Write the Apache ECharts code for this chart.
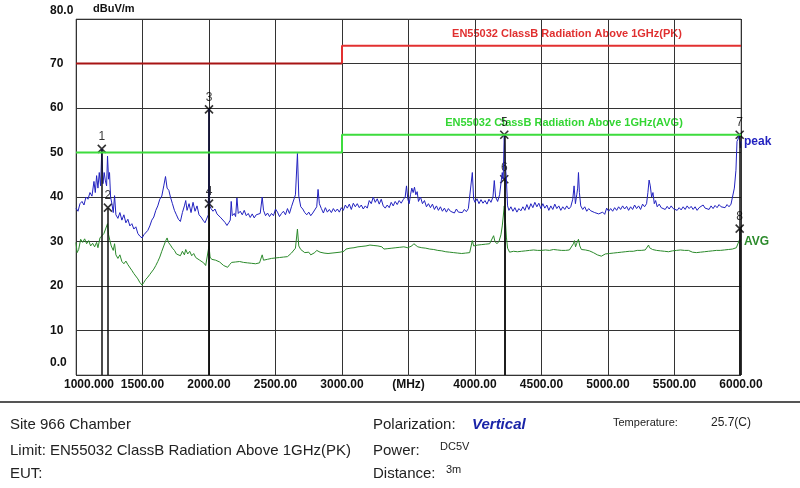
<!DOCTYPE html>
<html>
<head>
<meta charset="utf-8">
<script src="https://cdn.jsdelivr.net/npm/echarts@6/dist/echarts.min.js"></script>
<style>
html, body { margin: 0; padding: 0; background: #fff; }
#chart { width: 800px; height: 488px; }
</style>
</head>
<body>
<div id="chart"></div>
<script>
const xTickLabels = ['1000.000', '1500.00', '2000.00', '2500.00', '3000.00', '(MHz)', '4000.00', '4500.00', '5000.00', '5500.00', '6000.00']
const yTickLabels = ['0.0', '10', '20', '30', '40', '50', '60', '70', '80.0']

// limit lines: step at 3000 MHz
const limitFreqs = [1000, 3000, 6000]
const pkLimit = [70, 74]
const avgLimit = [50, 54]

// [MHz, dBuV/m]
const peakTrace = [
  [1000, 37.5], [1015, 36.8], [1030, 38.5], [1045, 39.0], [1060, 38.2], [1075, 40.0], [1090, 39.5], [1105, 41.0],
  [1120, 40.2], [1135, 43.5], [1145, 41.0], [1155, 44.8], [1165, 42.0], [1175, 45.5], [1185, 42.5], [1194, 50.8],
  [1203, 43.0], [1212, 45.5], [1220, 43.8], [1230, 42.5], [1237, 49.2], [1245, 44.0], [1252, 45.5], [1260, 40.0],
  [1270, 38.5], [1280, 36.5], [1290, 40.3], [1300, 36.0], [1315, 35.2], [1330, 36.5], [1345, 34.8], [1360, 36.0],
  [1375, 34.2], [1390, 35.0], [1405, 33.5], [1420, 34.0], [1435, 32.8], [1450, 33.3], [1465, 31.8], [1480, 31.2],
  [1497, 30.8], [1510, 31.5], [1525, 31.8], [1540, 32.5], [1555, 33.5], [1570, 34.8], [1585, 35.5], [1600, 37.0],
  [1615, 38.0], [1630, 39.5], [1645, 40.2], [1660, 42.5], [1673, 44.6], [1685, 42.0], [1698, 41.5], [1710, 40.0],
  [1725, 38.5], [1740, 37.0], [1755, 36.0], [1770, 35.0], [1785, 34.5], [1800, 36.5], [1815, 38.0], [1825, 39.2],
  [1835, 37.0], [1850, 38.5], [1865, 36.5], [1880, 38.8], [1895, 36.8], [1910, 38.0], [1925, 36.0], [1940, 35.5],
  [1955, 34.8], [1970, 34.2], [1985, 33.8], [1995, 36.0], [2000, 59.7], [2005, 38.0], [2015, 37.4], [2030, 36.8],
  [2045, 37.3], [2060, 36.2], [2075, 36.6], [2090, 35.3], [2105, 35.6], [2120, 34.3], [2135, 33.6], [2150, 34.3],
  [2160, 34.8], [2167, 39.0], [2175, 35.8], [2190, 36.3], [2200, 35.6], [2210, 39.8], [2220, 36.3], [2235, 36.8],
  [2250, 36.0], [2265, 37.0], [2280, 35.8], [2295, 36.3], [2310, 35.4], [2325, 36.2], [2340, 35.3], [2355, 36.0],
  [2370, 35.6], [2385, 36.3], [2400, 40.0], [2410, 37.0], [2425, 35.8], [2440, 36.4], [2455, 35.6], [2470, 36.3],
  [2485, 35.8], [2500, 37.3], [2515, 36.6], [2530, 35.6], [2545, 36.3], [2560, 36.8], [2575, 36.0], [2590, 37.4],
  [2605, 36.3], [2620, 37.8], [2635, 38.2], [2650, 40.5], [2665, 49.8], [2675, 40.2], [2690, 37.8], [2705, 37.3],
  [2720, 36.5], [2735, 36.0], [2750, 36.6], [2765, 35.8], [2780, 36.4], [2795, 36.0], [2810, 37.8], [2820, 41.7],
  [2830, 38.5], [2845, 37.4], [2860, 36.4], [2875, 37.6], [2890, 36.6], [2905, 37.2], [2920, 36.5], [2935, 37.4],
  [2950, 36.7], [2965, 37.3], [2980, 36.6], [2995, 37.6], [3010, 37.0], [3025, 38.2], [3040, 37.5], [3055, 38.4],
  [3070, 37.2], [3085, 38.6], [3100, 37.8], [3115, 38.5], [3130, 37.6], [3145, 38.2], [3160, 37.3], [3175, 38.0],
  [3190, 37.5], [3205, 39.2], [3220, 38.5], [3235, 40.0], [3250, 38.8], [3265, 39.6], [3280, 38.4], [3295, 39.5],
  [3310, 38.0], [3325, 37.5], [3340, 38.2], [3355, 37.6], [3370, 38.8], [3385, 38.0], [3400, 39.0], [3415, 38.3],
  [3430, 39.2], [3445, 38.6], [3460, 39.4], [3475, 40.0], [3485, 42.5], [3495, 39.5], [3505, 38.5], [3515, 40.5],
  [3525, 42.0], [3535, 41.0], [3545, 42.2], [3555, 40.5], [3565, 41.2], [3575, 39.0], [3590, 40.0], [3605, 38.5],
  [3620, 39.2], [3635, 37.8], [3650, 38.5], [3665, 37.6], [3680, 38.4], [3695, 37.2], [3710, 38.0], [3725, 37.0],
  [3740, 37.8], [3755, 36.8], [3770, 37.5], [3785, 36.6], [3800, 37.4], [3815, 36.8], [3830, 37.2], [3845, 36.4],
  [3860, 37.3], [3875, 36.6], [3890, 37.0], [3905, 36.5], [3920, 37.2], [3935, 36.7], [3950, 37.4], [3965, 37.0],
  [3980, 45.5], [3990, 39.5], [4000, 38.8], [4015, 39.6], [4030, 38.5], [4045, 39.4], [4060, 38.6], [4075, 39.2],
  [4090, 38.4], [4105, 39.5], [4120, 38.8], [4135, 40.0], [4145, 43.7], [4155, 40.0], [4170, 39.0], [4185, 40.5],
  [4195, 43.0], [4205, 45.5], [4212, 44.0], [4220, 54.0], [4228, 47.0], [4235, 44.5], [4245, 38.0], [4255, 37.0],
  [4270, 37.8], [4285, 36.8], [4300, 37.6], [4315, 36.6], [4330, 37.4], [4345, 36.9], [4360, 37.8], [4375, 37.0],
  [4390, 38.3], [4405, 37.2], [4420, 38.5], [4435, 37.6], [4450, 38.8], [4465, 37.8], [4480, 38.6], [4495, 37.4],
  [4510, 38.5], [4525, 37.5], [4540, 38.2], [4555, 37.0], [4570, 38.0], [4585, 37.2], [4600, 38.4], [4615, 37.4],
  [4630, 38.0], [4645, 37.0], [4660, 37.8], [4675, 37.2], [4690, 38.0], [4705, 37.3], [4720, 37.8], [4735, 39.5],
  [4745, 42.5], [4755, 38.5], [4765, 40.5], [4772, 42.0], [4778, 45.5], [4785, 41.0], [4795, 38.0], [4810, 37.2],
  [4825, 37.8], [4840, 36.8], [4855, 37.4], [4870, 36.9], [4885, 37.2], [4900, 36.5], [4915, 36.9], [4930, 36.2],
  [4945, 36.0], [4960, 36.6], [4975, 36.1], [4990, 37.5], [5005, 36.8], [5020, 37.4], [5035, 36.8], [5050, 37.6],
  [5065, 37.0], [5080, 37.8], [5095, 37.2], [5110, 38.0], [5125, 37.3], [5140, 37.9], [5155, 37.0], [5170, 37.8],
  [5185, 37.2], [5200, 38.2], [5215, 37.4], [5230, 38.0], [5245, 37.2], [5260, 38.4], [5275, 37.8], [5290, 38.5],
  [5300, 41.0], [5309, 43.8], [5318, 42.5], [5328, 40.0], [5338, 41.0], [5348, 38.5], [5358, 39.2], [5370, 37.8],
  [5385, 38.4], [5400, 37.6], [5415, 38.0], [5430, 37.2], [5445, 37.9], [5460, 37.3], [5475, 38.0], [5490, 37.4],
  [5505, 37.8], [5520, 37.0], [5535, 37.6], [5550, 37.1], [5565, 37.8], [5580, 37.2], [5595, 38.0], [5610, 37.4],
  [5625, 37.9], [5640, 37.2], [5655, 37.8], [5670, 37.0], [5685, 37.6], [5700, 37.4], [5715, 38.2], [5730, 37.5],
  [5745, 37.9], [5760, 37.2], [5775, 38.0], [5790, 37.4], [5805, 38.1], [5820, 37.6], [5835, 38.3], [5850, 37.8],
  [5865, 38.2], [5880, 37.6], [5895, 38.3], [5910, 37.8], [5925, 38.4], [5940, 38.6], [5950, 42.0], [5962, 46.0],
  [5970, 52.5], [5978, 53.0], [5988, 54.0], [5995, 51.0], [6000, 52.5]
]

const avgTrace = [
  [1000, 29.8], [1008, 27.5], [1020, 28.2], [1035, 30.5], [1050, 29.8], [1065, 30.6], [1080, 29.5], [1095, 30.2],
  [1110, 29.0], [1125, 29.6], [1140, 28.8], [1155, 29.8], [1165, 28.6], [1180, 30.8], [1195, 31.2], [1210, 31.8],
  [1225, 32.2], [1237, 34.0], [1245, 31.5], [1255, 30.2], [1265, 29.0], [1280, 28.0], [1290, 29.5], [1300, 27.0],
  [1315, 26.2], [1330, 27.0], [1345, 25.5], [1360, 25.0], [1375, 25.6], [1390, 24.8], [1405, 24.4], [1420, 23.5],
  [1435, 22.8], [1450, 22.4], [1465, 21.6], [1480, 20.8], [1497, 20.2], [1510, 20.8], [1525, 21.5], [1540, 22.0],
  [1555, 22.6], [1570, 23.0], [1585, 23.8], [1600, 24.6], [1615, 25.5], [1630, 26.5], [1645, 27.8], [1660, 29.0],
  [1675, 30.2], [1685, 30.8], [1695, 29.8], [1710, 29.2], [1725, 28.5], [1740, 28.0], [1755, 27.2], [1770, 27.5],
  [1785, 26.8], [1800, 27.8], [1815, 27.0], [1825, 28.2], [1840, 27.2], [1855, 27.8], [1870, 26.8], [1885, 27.3],
  [1900, 26.4], [1915, 26.8], [1930, 25.8], [1945, 25.9], [1960, 25.2], [1975, 24.6], [1990, 24.2], [2000, 29.0],
  [2008, 26.5], [2020, 26.0], [2035, 26.4], [2050, 25.8], [2065, 26.0], [2080, 25.4], [2095, 25.0], [2110, 24.6],
  [2125, 24.3], [2140, 24.2], [2155, 24.8], [2170, 25.3], [2185, 25.6], [2200, 25.4], [2215, 25.8], [2230, 25.5],
  [2245, 25.7], [2260, 25.3], [2275, 25.6], [2290, 25.2], [2305, 25.5], [2320, 25.1], [2335, 25.4], [2350, 25.0],
  [2365, 25.3], [2380, 25.2], [2400, 27.0], [2410, 25.8], [2425, 26.2], [2440, 26.0], [2455, 26.4], [2470, 26.2],
  [2485, 26.6], [2500, 26.3], [2515, 26.5], [2530, 26.4], [2545, 26.7], [2560, 26.5], [2575, 26.9], [2590, 26.6],
  [2605, 27.0], [2620, 27.4], [2635, 27.8], [2650, 28.5], [2665, 32.8], [2675, 29.0], [2690, 28.2], [2705, 27.8],
  [2720, 27.5], [2735, 27.2], [2750, 27.6], [2765, 27.0], [2780, 27.4], [2795, 27.5], [2810, 28.0], [2820, 28.2],
  [2835, 27.6], [2850, 27.2], [2865, 27.4], [2880, 27.0], [2895, 27.3], [2910, 27.1], [2925, 27.4], [2940, 27.2],
  [2955, 27.5], [2970, 27.3], [2985, 27.6], [3000, 27.5], [3015, 27.8], [3030, 28.3], [3045, 28.0], [3060, 28.5],
  [3075, 28.2], [3090, 28.6], [3105, 28.4], [3120, 28.8], [3135, 28.5], [3150, 28.9], [3165, 28.6], [3180, 29.0],
  [3195, 28.8], [3210, 29.2], [3225, 28.9], [3240, 29.1], [3255, 28.8], [3270, 29.0], [3285, 28.6], [3300, 28.8],
  [3315, 28.3], [3330, 28.6], [3345, 28.4], [3360, 28.8], [3375, 28.5], [3390, 28.9], [3405, 28.6], [3420, 29.0],
  [3435, 28.7], [3450, 29.0], [3465, 28.8], [3480, 29.2], [3495, 28.6], [3510, 28.4], [3525, 29.0], [3540, 29.5],
  [3555, 29.2], [3570, 28.8], [3585, 29.0], [3600, 28.6], [3615, 28.9], [3630, 28.5], [3645, 28.7], [3660, 28.3],
  [3675, 28.6], [3690, 28.2], [3705, 28.4], [3720, 28.0], [3735, 28.2], [3750, 27.9], [3765, 28.0], [3780, 27.7],
  [3795, 27.9], [3810, 27.6], [3825, 27.8], [3840, 27.5], [3855, 27.7], [3870, 27.4], [3885, 27.6], [3900, 27.3],
  [3915, 27.5], [3930, 27.4], [3945, 27.6], [3960, 27.5], [3980, 30.2], [3990, 29.0], [4005, 28.8], [4020, 29.2],
  [4035, 28.9], [4050, 29.3], [4065, 29.0], [4080, 29.4], [4095, 29.1], [4110, 29.5], [4125, 29.6], [4140, 31.3],
  [4150, 30.0], [4165, 29.5], [4180, 30.0], [4195, 31.5], [4205, 33.5], [4212, 35.5], [4220, 38.0], [4228, 35.0],
  [4236, 31.0], [4245, 28.5], [4260, 27.6], [4275, 27.4], [4290, 27.8], [4305, 27.5], [4320, 27.7], [4335, 27.4],
  [4350, 27.8], [4365, 27.6], [4380, 27.9], [4395, 27.7], [4410, 28.0], [4425, 27.8], [4440, 28.1], [4455, 27.9],
  [4470, 28.0], [4485, 27.7], [4500, 28.0], [4515, 27.8], [4530, 28.1], [4545, 27.9], [4560, 28.0], [4575, 27.8],
  [4590, 28.2], [4605, 27.9], [4620, 28.1], [4635, 27.8], [4650, 28.0], [4665, 27.7], [4680, 28.0], [4695, 27.8],
  [4710, 28.1], [4725, 28.0], [4740, 29.5], [4748, 30.2], [4756, 28.8], [4765, 29.6], [4778, 30.5], [4788, 29.0],
  [4800, 28.2], [4815, 27.9], [4830, 28.1], [4845, 27.7], [4860, 27.9], [4875, 27.6], [4890, 27.5], [4905, 27.2],
  [4920, 27.0], [4935, 26.8], [4950, 26.7], [4965, 26.9], [4980, 27.2], [4995, 27.0], [5010, 27.3], [5025, 27.1],
  [5040, 27.4], [5055, 27.2], [5070, 27.5], [5085, 27.3], [5100, 27.6], [5115, 27.4], [5130, 27.7], [5145, 27.5],
  [5160, 27.8], [5175, 27.6], [5190, 27.8], [5205, 27.7], [5220, 28.0], [5235, 27.8], [5250, 28.0], [5265, 27.8],
  [5280, 28.1], [5295, 28.3], [5305, 29.2], [5312, 28.6], [5322, 29.0], [5335, 28.2], [5350, 27.9], [5365, 28.0],
  [5380, 27.7], [5395, 27.9], [5410, 27.6], [5425, 27.8], [5440, 27.5], [5455, 27.7], [5470, 27.6], [5485, 27.9],
  [5500, 27.8], [5515, 28.0], [5530, 27.9], [5545, 28.1], [5560, 27.8], [5575, 28.0], [5590, 28.3], [5605, 28.0],
  [5620, 27.8], [5635, 27.6], [5650, 27.8], [5665, 27.5], [5680, 27.7], [5695, 27.6], [5710, 27.8], [5725, 27.7],
  [5740, 27.9], [5755, 27.8], [5770, 28.0], [5785, 27.9], [5800, 28.1], [5815, 28.0], [5830, 28.2], [5845, 28.0],
  [5860, 28.3], [5875, 28.1], [5890, 28.4], [5905, 28.2], [5920, 28.4], [5935, 28.3], [5950, 28.5], [5965, 28.6],
  [5980, 28.8], [5990, 30.5], [6000, 30.0]
]

// marker points 1..8
const markers = [
  [1194, 50.8], [1240, 37.6], [2000, 59.7], [2000, 38.5],
  [4220, 54.0], [4220, 44.0], [5990, 54.0], [5990, 32.9]
]

const FONT = '"Liberation Sans", Arial, sans-serif'
const chart = echarts.init(document.getElementById('chart'))

const pkLow = [[limitFreqs[0], pkLimit[0]], [limitFreqs[1], pkLimit[0]]]
const pkHigh = [[limitFreqs[1], pkLimit[0]], [limitFreqs[1], pkLimit[1]], [limitFreqs[2], pkLimit[1]]]
const avgLim = [[limitFreqs[0], avgLimit[0]], [limitFreqs[1], avgLimit[0]], [limitFreqs[1], avgLimit[1]], [limitFreqs[2], avgLimit[1]]]

const labelFont = { fontFamily: FONT, fontSize: 12, fontWeight: 'bold', color: '#111' }

chart.setOption({
  animation: false,
  backgroundColor: '#fff',
  grid: { left: 76, right: 59, top: 19, height: 356, show: true, borderColor: '#888', borderWidth: 1 },
  xAxis: {
    type: 'value', min: 1000, max: 6000, interval: 500,
    axisLine: { show: false }, axisTick: { show: false },
    splitLine: { show: true, lineStyle: { color: '#333', width: 1 } },
    axisLabel: {
      ...labelFont, margin: 4, showMinLabel: true, showMaxLabel: true,
      formatter: v => {
        const i = Math.round((v - 1000) / 500)
        return i === 0 ? '{first|' + xTickLabels[i] + '}' : xTickLabels[i]
      },
      rich: { first: { ...labelFont, padding: [0, 0, 0, 26] } }
    }
  },
  yAxis: {
    type: 'value', min: 0, max: 80, interval: 10,
    axisLine: { show: false }, axisTick: { show: false },
    splitLine: { show: true, lineStyle: { color: '#333', width: 1 } },
    axisLabel: {
      ...labelFont, align: 'left', margin: 26, showMinLabel: true, showMaxLabel: true,
      formatter: v => {
        const i = Math.round(v / 10)
        if (i === 8) return '{top|' + yTickLabels[i] + '}'
        if (i === 0) return '{bot|' + yTickLabels[i] + '}'
        return yTickLabels[i]
      },
      rich: {
        top: { ...labelFont, padding: [0, 0, 16, 0] },
        bot: { ...labelFont, padding: [0, 0, 24, 0] }
      }
    }
  },
  series: [
    {
      name: 'markers', type: 'scatter', z: 1,
      data: markers,
      symbol: 'path://M0,0L10,10M10,0L0,10', symbolSize: 8,
      itemStyle: { color: 'rgba(0,0,0,0)', borderColor: '#000', borderWidth: 1.6 },
      label: {
        show: true, position: 'top', distance: 1,
        formatter: p => String(p.dataIndex + 1),
        fontFamily: FONT, fontSize: 12, color: '#000'
      },
      markLine: {
        silent: true, symbol: 'none', animation: false,
        lineStyle: { color: '#111', width: 1.5, type: 'solid' },
        label: { show: false },
        data: markers.map(m => [{ coord: [m[0], m[1]] }, { coord: [m[0], 0] }])
      }
    },
    {
      name: 'AVG', type: 'line', z: 3, data: avgTrace, showSymbol: false,
      lineStyle: { color: '#2b8a2b', width: 1 },
      endLabel: { show: true, formatter: 'AVG', color: '#2b8a2b', fontFamily: FONT, fontSize: 12, fontWeight: 'bold', distance: 3 }
    },
    {
      name: 'peak', type: 'line', z: 4, data: peakTrace, showSymbol: false,
      lineStyle: { color: '#2222c0', width: 1 },
      endLabel: { show: true, formatter: 'peak', color: '#2222c0', fontFamily: FONT, fontSize: 12, fontWeight: 'bold', distance: 3 }
    },
    {
      name: 'PK limit low', type: 'line', z: 5, data: pkLow, showSymbol: false,
      lineStyle: { color: '#a81414', width: 2 }
    },
    {
      name: 'PK limit high', type: 'line', z: 5, data: pkHigh, showSymbol: false,
      lineStyle: { color: '#e23030', width: 2 }
    },
    {
      name: 'AVG limit', type: 'line', z: 5, data: avgLim, showSymbol: false,
      lineStyle: { color: '#3ddc3d', width: 2 }
    }
  ],
  graphic: [
    { type: 'text', left: 93, top: 3, style: { text: 'dBuV/m', font: 'bold 11px ' + FONT, fill: '#111' } },
    { type: 'text', x: 567, y: 34, style: { text: 'EN55032 ClassB Radiation Above 1GHz(PK)', font: 'bold 11px ' + FONT, fill: '#e03030', textAlign: 'center', textVerticalAlign: 'middle' } },
    { type: 'text', x: 564, y: 123, style: { text: 'EN55032 ClassB Radiation Above 1GHz(AVG)', font: 'bold 11px ' + FONT, fill: '#33d633', textAlign: 'center', textVerticalAlign: 'middle' } },
    { type: 'line', shape: { x1: 0, y1: 402, x2: 800, y2: 402 }, style: { stroke: '#555', lineWidth: 2 } },
    { type: 'text', x: 10, y: 425, style: { text: 'Site 966 Chamber', font: '15px ' + FONT, fill: '#222', textVerticalAlign: 'middle' } },
    { type: 'text', x: 10, y: 451, style: { text: 'Limit: EN55032 ClassB Radiation Above 1GHz(PK)', font: '15px ' + FONT, fill: '#222', textVerticalAlign: 'middle' } },
    { type: 'text', x: 10, y: 474, style: { text: 'EUT:', font: '15px ' + FONT, fill: '#222', textVerticalAlign: 'middle' } },
    { type: 'text', x: 373, y: 425, style: { text: 'Polarization:', font: '15px ' + FONT, fill: '#222', textVerticalAlign: 'middle' } },
    { type: 'text', x: 472, y: 425, style: { text: 'Vertical', font: 'italic bold 15px ' + FONT, fill: '#1a24a8', textVerticalAlign: 'middle' } },
    { type: 'text', x: 613, y: 423, style: { text: 'Temperature:', font: '11px ' + FONT, fill: '#222', textVerticalAlign: 'middle' } },
    { type: 'text', x: 711, y: 423, style: { text: '25.7(C)', font: '12px ' + FONT, fill: '#222', textVerticalAlign: 'middle' } },
    { type: 'text', x: 373, y: 451, style: { text: 'Power:', font: '15px ' + FONT, fill: '#222', textVerticalAlign: 'middle' } },
    { type: 'text', x: 440, y: 447, style: { text: 'DC5V', font: '11px ' + FONT, fill: '#222', textVerticalAlign: 'middle' } },
    { type: 'text', x: 373, y: 474, style: { text: 'Distance:', font: '15px ' + FONT, fill: '#222', textVerticalAlign: 'middle' } },
    { type: 'text', x: 446, y: 470, style: { text: '3m', font: '11px ' + FONT, fill: '#222', textVerticalAlign: 'middle' } }
  ]
})
</script>
</body>
</html>
